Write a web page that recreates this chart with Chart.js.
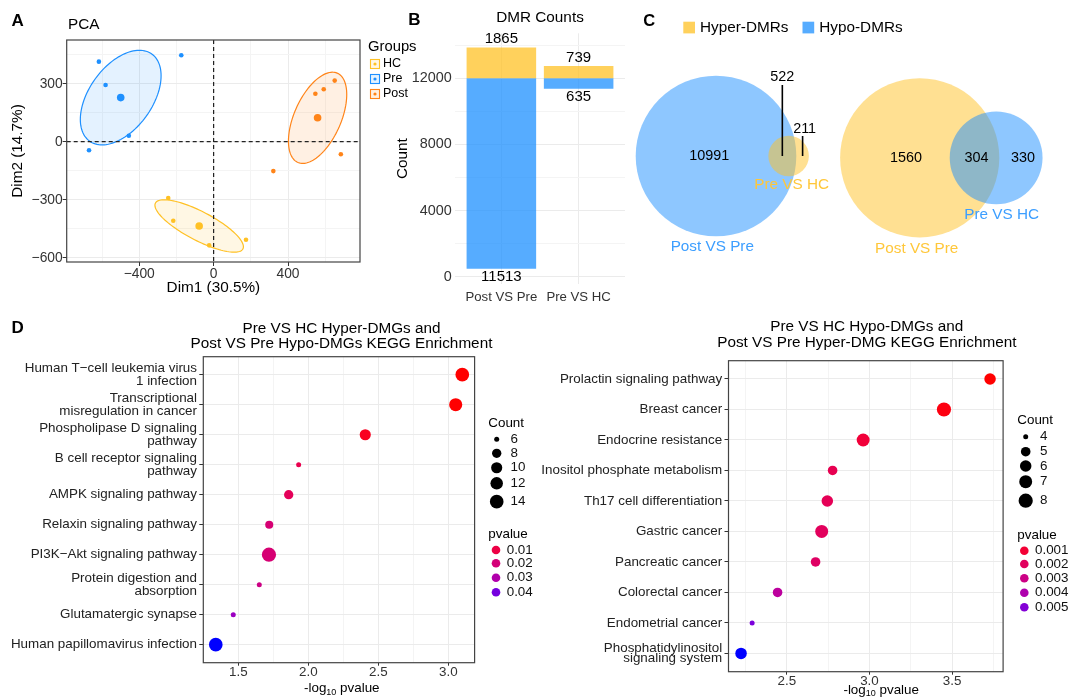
<!DOCTYPE html>
<html>
<head>
<meta charset="utf-8">
<script src="https://cdn.jsdelivr.net/npm/chart.js@4.4.1/dist/chart.umd.min.js"></script>
<style>
  body { margin: 0; background: #fff; width: 1083px; height: 697px; overflow: hidden; position: relative; }
  canvas { position: absolute; }
</style>
</head>
<body>
<canvas id="pca" style="left:0px;top:0px" width="430" height="305"></canvas>
<canvas id="dmr" style="left:360px;top:0px" width="270" height="305"></canvas>
<canvas id="vennL" style="left:630px;top:0px" width="453" height="290"></canvas>
<canvas id="vennR" style="left:630px;top:0px" width="453" height="290"></canvas>
<canvas id="keggL" style="left:0px;top:310px" width="540" height="387"></canvas>
<canvas id="keggR" style="left:540px;top:310px" width="543" height="387"></canvas>
<script>
"use strict";

// ---- A: PCA coordinates (Dim1, Dim2) ----
var groups = ['HC', 'Pre', 'Post'];
var groupColors = ['#FFC125', '#1E90FF', '#FF8419'];
var hcX = [-244, -217, -24, 174];
var hcY = [-291, -409, -536, -507];
var preX = [-617, -581, -456, -670, -174];
var preY = [414, 293, 31, -44, 447];
var postX = [651, 592, 547, 684, 321];
var postY = [316, 271, 248, -65, -152];

// ---- B: DMR counts ----
var dmrCats = ['Post VS Pre', 'Pre VS HC'];
var hyperCounts = [1865, 739];
var hypoCounts = [11513, 635];
var dmrBase = 12000;

// ---- C: venn counts [only first, overlap, only second] ----
var venn1Counts = [10991, 522, 211];   // Post VS Pre hypo / Pre VS HC hyper
var venn2Counts = [1560, 304, 330];    // Post VS Pre hyper / Pre VS HC hypo

// ---- D: KEGG enrichment ----
var keggLTerms = ['Human T\u2212cell leukemia virus\n1 infection', 'Transcriptional\nmisregulation in cancer',
  'Phospholipase D signaling\npathway', 'B cell receptor signaling\npathway', 'AMPK signaling pathway',
  'Relaxin signaling pathway', 'PI3K\u2212Akt signaling pathway', 'Protein digestion and\nabsorption',
  'Glutamatergic synapse', 'Human papillomavirus infection'];
var keggLLogP = [3.10, 3.053, 2.407, 1.931, 1.86, 1.721, 1.719, 1.65, 1.464, 1.339];
var keggLCount = [14, 13, 10, 6, 8, 7, 15, 6, 6, 14];
var keggLSizeBreaks = [6, 8, 10, 12, 14];
var keggLPBreaks = ['0.01', '0.02', '0.03', '0.04'];

var keggRTerms = ['Prolactin signaling pathway', 'Breast cancer', 'Endocrine resistance',
  'Inositol phosphate metabolism', 'Th17 cell differentiation', 'Gastric cancer', 'Pancreatic cancer',
  'Colorectal cancer', 'Endometrial cancer', 'Phosphatidylinositol\nsignaling system'];
var keggRLogP = [3.73, 3.451, 2.962, 2.777, 2.745, 2.711, 2.674, 2.444, 2.29, 2.223];
var keggRCount = [6, 8, 7, 5, 6, 7, 5, 5, 4, 6];
var keggRSizeBreaks = [4, 5, 6, 7, 8];
var keggRPBreaks = ['0.001', '0.002', '0.003', '0.004', '0.005'];

var FONT = '"Liberation Sans", Arial, Helvetica, sans-serif';
Chart.defaults.font.family = FONT;
Chart.defaults.color = '#333';
Chart.defaults.animation = false;
Chart.defaults.responsive = false;
Chart.defaults.devicePixelRatio = 1;
Chart.defaults.events = [];
Chart.defaults.plugins.legend.display = false;
Chart.defaults.plugins.tooltip.enabled = false;

function hexRgb(h) { return [parseInt(h.slice(1, 3), 16), parseInt(h.slice(3, 5), 16), parseInt(h.slice(5, 7), 16)]; }
function rgba(h, a) { var c = hexRgb(h); return 'rgba(' + c[0] + ',' + c[1] + ',' + c[2] + ',' + a + ')'; }
function mean(a) { return a.reduce(function(s, v) { return s + v; }, 0) / a.length; }
function minus(v) { return String(v).replace('-', '\u2212'); }
function isMult(v, st) { return Math.abs(v / st - Math.round(v / st)) < 1e-6; }
function stepTicks(a, b, st) {
  var out = [];
  for (var v = a; v <= b + st / 1000; v += st) out.push({ value: Math.round(v * 1000) / 1000 });
  return out;
}
function gridCol(st) { return function(c) { return c.tick && isMult(c.tick.value, st) ? '#EBEBEB' : '#F4F4F4'; }; }
function tickCol(st) { return function(c) { return c.tick && isMult(c.tick.value, st) ? '#333' : 'rgba(0,0,0,0)'; }; }

function txt(ctx, s, x, y, o) {
  o = o || {};
  ctx.save();
  ctx.font = (o.weight || 'normal') + ' ' + (o.size || 13.4) + 'px ' + FONT;
  ctx.fillStyle = o.color || '#000';
  ctx.textAlign = o.align || 'left';
  ctx.textBaseline = 'middle';
  if (o.rot) { ctx.translate(x, y); ctx.rotate(o.rot); ctx.fillText(s, 0, 0); }
  else ctx.fillText(s, x, y);
  ctx.restore();
}
function seg(ctx, x1, y1, x2, y2, w, col) {
  ctx.save(); ctx.strokeStyle = col || '#000'; ctx.lineWidth = w || 1.5;
  ctx.beginPath(); ctx.moveTo(x1, y1); ctx.lineTo(x2, y2); ctx.stroke(); ctx.restore();
}
function frame(chart) {
  var a = chart.chartArea, ctx = chart.ctx;
  ctx.save(); ctx.strokeStyle = '#444'; ctx.lineWidth = 1.2;
  ctx.strokeRect(a.left, a.top, a.right - a.left, a.bottom - a.top); ctx.restore();
}

// ================= A: PCA =================
var pcaGroups = [
  { name: groups[0], xs: hcX, ys: hcY, color: groupColors[0] },
  { name: groups[1], xs: preX, ys: preY, color: groupColors[1] },
  { name: groups[2], xs: postX, ys: postY, color: groupColors[2] }
];
var pcaSets = [];
pcaGroups.forEach(function(g) {
  pcaSets.push({ data: [{ x: mean(g.xs), y: mean(g.ys) }], pointRadius: 3.8, backgroundColor: g.color, borderWidth: 0 });
  pcaSets.push({ data: g.xs.map(function(x, i) { return { x: x, y: g.ys[i] }; }), pointRadius: 2.3, backgroundColor: g.color, borderWidth: 0 });
});

// confidence ellipse of each group from its covariance
function ellipsePath(g) {
  var n = g.xs.length, mx = mean(g.xs), my = mean(g.ys), sxx = 0, syy = 0, sxy = 0;
  for (var i = 0; i < n; i++) {
    var dx = g.xs[i] - mx, dy = g.ys[i] - my;
    sxx += dx * dx; syy += dy * dy; sxy += dx * dy;
  }
  sxx /= n - 1; syy /= n - 1; sxy /= n - 1;
  var k = Math.sqrt(5.991 / n);
  var a = Math.sqrt(sxx), b = sxy / a, c = Math.sqrt(Math.max(syy - b * b, 0));
  var pts = [];
  for (var t = 0; t <= 120; t++) {
    var th = t / 120 * 2 * Math.PI;
    pts.push([mx + k * a * Math.cos(th), my + k * (b * Math.cos(th) + c * Math.sin(th))]);
  }
  return pts;
}

var pcaDecor = {
  id: 'pcaDecor',
  beforeDatasetsDraw: function(chart) {
    var ctx = chart.ctx, sx = chart.scales.x, sy = chart.scales.y, a = chart.chartArea;
    ctx.save();
    ctx.beginPath(); ctx.rect(a.left, a.top, a.right - a.left, a.bottom - a.top); ctx.clip();
    pcaGroups.forEach(function(g) {
      var pts = ellipsePath(g);
      ctx.beginPath();
      pts.forEach(function(p, i) {
        var X = sx.getPixelForValue(p[0]), Y = sy.getPixelForValue(p[1]);
        if (i) ctx.lineTo(X, Y); else ctx.moveTo(X, Y);
      });
      ctx.closePath();
      ctx.fillStyle = rgba(g.color, 0.12); ctx.fill();
      ctx.strokeStyle = g.color; ctx.lineWidth = 1.2; ctx.stroke();
    });
    ctx.setLineDash([4, 3]); ctx.strokeStyle = '#222'; ctx.lineWidth = 1.2;
    var x0 = sx.getPixelForValue(0), y0 = sy.getPixelForValue(0);
    ctx.beginPath(); ctx.moveTo(x0, a.top); ctx.lineTo(x0, a.bottom); ctx.stroke();
    ctx.beginPath(); ctx.moveTo(a.left, y0); ctx.lineTo(a.right, y0); ctx.stroke();
    ctx.restore();
  },
  afterDraw: function(chart) {
    var ctx = chart.ctx;
    frame(chart);
    txt(ctx, 'A', 11.5, 21.5, { size: 17, weight: 'bold' });
    txt(ctx, 'PCA', 68, 25, { size: 15.3 });
    txt(ctx, 'Groups', 368, 47, { size: 14.8 });
    pcaGroups.forEach(function(g, i) {
      var y = 64 + i * 15;
      ctx.save();
      ctx.fillStyle = rgba(g.color, 0.12); ctx.fillRect(370.5, y - 4.5, 9, 9);
      ctx.strokeStyle = g.color; ctx.lineWidth = 1.1; ctx.strokeRect(370.5, y - 4.5, 9, 9);
      ctx.fillStyle = g.color; ctx.beginPath(); ctx.arc(375, y, 1.6, 0, 2 * Math.PI); ctx.fill();
      ctx.restore();
      txt(ctx, g.name, 383, y, { size: 12.5 });
    });
  }
};

new Chart(document.getElementById('pca'), {
  type: 'scatter',
  data: { datasets: pcaSets },
  options: {
    layout: { padding: { left: 0, top: 40, right: 70, bottom: 0 } },
    scales: {
      x: {
        min: -790, max: 787,
        afterBuildTicks: function(s) { s.ticks = stepTicks(-600, 600, 200); },
        afterFit: function(s) { s.height = 43; },
        ticks: { autoSkip: false, maxRotation: 0, padding: 0, color: '#333', font: { size: 13.8 },
          callback: function(v) { return isMult(v, 400) ? minus(v) : ''; } },
        grid: { color: gridCol(400), tickLength: 4, tickColor: tickCol(400) },
        border: { display: false },
        title: { display: true, text: 'Dim1 (30.5%)', color: '#000', font: { size: 15.3 }, padding: { top: 0, bottom: 8 } }
      },
      y: {
        min: -622, max: 526,
        afterBuildTicks: function(s) { s.ticks = stepTicks(-600, 450, 150); },
        afterFit: function(s) { s.width = 66.7; },
        ticks: { autoSkip: false, padding: 0, color: '#333', font: { size: 13.8 },
          callback: function(v) { return isMult(v, 300) ? minus(v) : ''; } },
        grid: { color: gridCol(300), tickLength: 4, tickColor: tickCol(300) },
        border: { display: false },
        title: { display: true, text: 'Dim2 (14.7%)', color: '#000', font: { size: 15.3 }, padding: { top: 9, bottom: 0 } }
      }
    }
  },
  plugins: [pcaDecor]
});

// ================= B: DMR counts =================
var yellowBar = rgba(groupColors[0], 0.75), blueBar = rgba(groupColors[1], 0.75);
var dmrDecor = {
  id: 'dmrDecor',
  afterDatasetsDraw: function(chart) {
    var ctx = chart.ctx;
    chart.getDatasetMeta(0).data.forEach(function(el, i) {
      txt(ctx, String(hyperCounts[i]), el.x, Math.min(el.y, el.base) - 8.5, { size: 15, align: 'center' });
    });
    chart.getDatasetMeta(1).data.forEach(function(el, i) {
      txt(ctx, String(hypoCounts[i]), el.x, Math.max(el.y, el.base) + 8.5, { size: 15, align: 'center' });
    });
    var a = chart.chartArea;
    txt(ctx, 'B', 48.3, 20, { size: 17, weight: 'bold' });
    txt(ctx, 'DMR Counts', (a.left + a.right) / 2, 18, { size: 15.3, align: 'center' });
  }
};
new Chart(document.getElementById('dmr'), {
  type: 'bar',
  data: {
    datasets: [
      { data: dmrCats.map(function(c, i) { return { x: i + 1, y: [dmrBase, dmrBase + hyperCounts[i]] }; }),
        backgroundColor: yellowBar, grouped: false, barPercentage: 0.9, categoryPercentage: 1 },
      { data: dmrCats.map(function(c, i) { return { x: i + 1, y: [dmrBase - hypoCounts[i], dmrBase] }; }),
        backgroundColor: blueBar, grouped: false, barPercentage: 0.9, categoryPercentage: 1 }
    ]
  },
  options: {
    layout: { padding: { left: 0, top: 33.3, right: 5, bottom: 0 } },
    scales: {
      x: {
        type: 'linear', min: 0.4, max: 2.6, offset: false,
        afterBuildTicks: function(s) { s.ticks = dmrCats.map(function(c, i) { return { value: i + 1 }; }); },
        afterFit: function(s) { s.height = 21; },
        ticks: { autoSkip: false, maxRotation: 0, padding: 7, color: '#333', font: { size: 13.2, lineHeight: 1 },
          callback: function(v) { return dmrCats[Math.round(v) - 1]; } },
        grid: { color: '#EBEBEB', drawTicks: false, offset: false },
        border: { display: false }
      },
      y: {
        min: -442, max: 14724,
        afterBuildTicks: function(s) { s.ticks = stepTicks(0, 14000, 2000); },
        afterFit: function(s) { s.width = 95; },
        ticks: { autoSkip: false, padding: 3.3, color: '#333', font: { size: 14.4 },
          callback: function(v) { return isMult(v, 4000) ? String(v) : ''; } },
        grid: { color: gridCol(4000), drawTicks: false },
        border: { display: false },
        title: { display: true, text: 'Count', color: '#000', font: { size: 15.3 }, padding: { top: 33.5, bottom: 0 } }
      }
    }
  },
  plugins: [dmrDecor]
});

// ================= C: Venn diagrams =================
function lensArea(r1, r2, d) {
  if (d >= r1 + r2) return 0;
  if (d <= Math.abs(r1 - r2)) return Math.PI * Math.pow(Math.min(r1, r2), 2);
  var a = r1 * r1 * Math.acos((d * d + r1 * r1 - r2 * r2) / (2 * d * r1));
  var b = r2 * r2 * Math.acos((d * d + r2 * r2 - r1 * r1) / (2 * d * r2));
  var c = 0.5 * Math.sqrt((-d + r1 + r2) * (d + r1 - r2) * (d - r1 + r2) * (d + r1 + r2));
  return a + b - c;
}
function vennGeom(counts) {
  var r1 = Math.sqrt((counts[0] + counts[1]) / Math.PI), r2 = Math.sqrt((counts[1] + counts[2]) / Math.PI);
  var lo = Math.abs(r1 - r2), hi = r1 + r2;
  for (var i = 0; i < 80; i++) {
    var m = (lo + hi) / 2;
    if (lensArea(r1, r2, m) > counts[1]) lo = m; else hi = m;
  }
  return { r1: r1, r2: r2, d: (lo + hi) / 2 };
}
var blueText = '#3C9EFF', yellowText = '#FFC73A';

function vennChart(id, counts, bigColor, smallColor, cx, cy, R, decor) {
  var g = vennGeom(counts), s = R / g.r1, W = 453, H = 290;
  return new Chart(document.getElementById(id), {
    type: 'scatter',
    data: { datasets: [{
      data: [{ x: 0, y: 0, r: g.r1 }, { x: g.d, y: 0, r: g.r2 }],
      backgroundColor: [rgba(bigColor, 0.5), rgba(smallColor, 0.5)],
      borderWidth: 0,
      clip: false,
      pointRadius: function(c) {
        var sx = c.chart.scales.x;
        return c.raw ? Math.abs(sx.getPixelForValue(c.raw.r) - sx.getPixelForValue(0)) : 0;
      }
    }] },
    options: {
      layout: { padding: 0 },
      scales: {
        x: { display: false, min: -cx / s, max: (W - cx) / s },
        y: { display: false, min: -(H - cy) / s, max: cy / s }
      }
    },
    plugins: [{ id: 'vennDecor_' + id, afterDatasetsDraw: function(chart) { decor(chart, g); } }]
  });
}

vennChart('vennL', venn1Counts, groupColors[1], groupColors[0], 86, 156, 80.3, function(chart, g) {
  var ctx = chart.ctx, sx = chart.scales.x, y0 = chart.scales.y.getPixelForValue(0);
  var xBoth = sx.getPixelForValue((g.r1 + g.d - g.r2) / 2);
  var xSmall = sx.getPixelForValue((g.r1 + g.d + g.r2) / 2);
  txt(ctx, String(venn1Counts[0]), 79.3, y0, { size: 14.4, align: 'center' });
  seg(ctx, xBoth, 85, xBoth, y0, 1.6);
  txt(ctx, String(venn1Counts[1]), xBoth, 77.3, { size: 14.4, align: 'center' });
  seg(ctx, xSmall, 136, xSmall, y0, 1.6);
  txt(ctx, String(venn1Counts[2]), xSmall + 2, 129, { size: 14.4, align: 'center' });
  txt(ctx, 'Pre VS HC', 161.7, 185, { size: 15.3, align: 'center', color: yellowText });
  txt(ctx, 'Post VS Pre', 82.3, 246.7, { size: 15.3, align: 'center', color: blueText });
  // panel letter + legend
  txt(ctx, 'C', 13.3, 21.7, { size: 16.5, weight: 'bold' });
  ctx.fillStyle = rgba(groupColors[0], 0.75); ctx.fillRect(53.3, 21.7, 11.7, 11.7);
  txt(ctx, 'Hyper-DMRs', 70, 27.5, { size: 15.3 });
  ctx.fillStyle = rgba(groupColors[1], 0.75); ctx.fillRect(172.5, 21.7, 11.7, 11.7);
  txt(ctx, 'Hypo-DMRs', 189.3, 27.5, { size: 15.3 });
});

vennChart('vennR', venn2Counts, groupColors[0], groupColors[1], 289.7, 157.8, 79.6, function(chart, g) {
  var ctx = chart.ctx, sx = chart.scales.x, y0 = chart.scales.y.getPixelForValue(0);
  var xBoth = sx.getPixelForValue((g.r1 + g.d - g.r2) / 2);
  var xSmall = sx.getPixelForValue((g.r1 + g.d + g.r2) / 2);
  txt(ctx, String(venn2Counts[0]), 276, y0, { size: 14.4, align: 'center' });
  txt(ctx, String(venn2Counts[1]), xBoth + 2, y0, { size: 14.4, align: 'center' });
  txt(ctx, String(venn2Counts[2]), xSmall + 2, y0, { size: 14.4, align: 'center' });
  txt(ctx, 'Pre VS HC', 371.7, 215, { size: 15.3, align: 'center', color: blueText });
  txt(ctx, 'Post VS Pre', 286.7, 248.3, { size: 15.3, align: 'center', color: yellowText });
});

// ================= D: KEGG dot plots =================
function toLab(rgb) {
  var l = rgb.map(function(c) { c /= 255; return c <= 0.04045 ? c / 12.92 : Math.pow((c + 0.055) / 1.055, 2.4); });
  var X = (0.4124564 * l[0] + 0.3575761 * l[1] + 0.1804375 * l[2]) / 0.95047;
  var Y = 0.2126729 * l[0] + 0.7151522 * l[1] + 0.0721750 * l[2];
  var Z = (0.0193339 * l[0] + 0.1191920 * l[1] + 0.9503041 * l[2]) / 1.08883;
  var f = function(t) { return t > 0.008856 ? Math.cbrt(t) : 7.787 * t + 16 / 116; };
  return [116 * f(Y) - 16, 500 * (f(X) - f(Y)), 200 * (f(Y) - f(Z))];
}
function fromLab(lab) {
  var fy = (lab[0] + 16) / 116, fx = fy + lab[1] / 500, fz = fy - lab[2] / 200;
  var fi = function(t) { var t3 = t * t * t; return t3 > 0.008856 ? t3 : (t - 16 / 116) / 7.787; };
  var X = fi(fx) * 0.95047, Y = fi(fy), Z = fi(fz) * 1.08883;
  var r = 3.2404542 * X - 1.5371385 * Y - 0.4985314 * Z;
  var g = -0.9692660 * X + 1.8760108 * Y + 0.0415560 * Z;
  var b = 0.0556434 * X - 0.2040259 * Y + 1.0572252 * Z;
  return [r, g, b].map(function(c) {
    c = c <= 0.0031308 ? 12.92 * c : 1.055 * Math.pow(c, 1 / 2.4) - 0.055;
    return Math.round(Math.max(0, Math.min(1, c)) * 255);
  });
}
function labRamp(lo, hi) {
  var a = toLab(hexRgb(lo)), b = toLab(hexRgb(hi));
  return function(t) {
    t = Math.max(0, Math.min(1, t));
    return 'rgb(' + fromLab([0, 1, 2].map(function(i) { return a[i] + (b[i] - a[i]) * t; })).join(',') + ')';
  };
}
var redBlue = labRamp('#FF0000', '#0000FF');

function keggChart(id, terms, logp, counts, sizeBreaks, pBreaks, L) {
  var pv = logp.map(function(v) { return Math.pow(10, -v); });
  var pLo = Math.min.apply(null, pv), pHi = Math.max.apply(null, pv);
  var cLo = Math.min.apply(null, counts), cHi = Math.max.apply(null, counts);
  var colorOf = function(p) { return redBlue((p - pLo) / (pHi - pLo)); };
  var radiusOf = function(c) { return 2.5 + 4.6 * Math.sqrt(Math.max(0, (c - cLo) / (cHi - cLo))); };

  var decor = {
    id: 'keggDecor_' + id,
    afterDraw: function(chart) {
      var ctx = chart.ctx;
      frame(chart);
      if (L.letter) txt(ctx, 'D', 11.4, 18.3, { size: 17, weight: 'bold' });
      L.titles.forEach(function(t, i) { txt(ctx, t, L.titleX, L.titleY[i], { size: 15.3, align: 'center' }); });
      // x axis title with subscript
      ctx.save();
      ctx.font = '13.4px ' + FONT; var w1 = ctx.measureText('-log').width, w3 = ctx.measureText(' pvalue').width;
      ctx.font = '9px ' + FONT; var w2 = ctx.measureText('10').width;
      ctx.restore();
      var x = L.axisTitle[0] - (w1 + w2 + w3) / 2, y = L.axisTitle[1];
      txt(ctx, '-log', x, y, { size: 13.4 });
      txt(ctx, '10', x + w1, y + 4, { size: 9 });
      txt(ctx, ' pvalue', x + w1 + w2, y, { size: 13.4 });
      // legends
      var lg = L.legend;
      txt(ctx, 'Count', lg.x, lg.countTitle, { size: 13.4 });
      sizeBreaks.forEach(function(c, i) {
        ctx.fillStyle = '#000'; ctx.beginPath(); ctx.arc(lg.countDotX, lg.countY[i], radiusOf(c), 0, 2 * Math.PI); ctx.fill();
        txt(ctx, String(c), lg.countLabelX, lg.countY[i], { size: 13.4, color: '#111' });
      });
      txt(ctx, 'pvalue', lg.x, lg.pTitle, { size: 13.4 });
      pBreaks.forEach(function(p, i) {
        ctx.fillStyle = colorOf(parseFloat(p)); ctx.beginPath(); ctx.arc(lg.pDotX, lg.pY[i], 4.3, 0, 2 * Math.PI); ctx.fill();
        txt(ctx, p, lg.pLabelX, lg.pY[i], { size: 13.4, color: '#111' });
      });
    }
  };

  return new Chart(document.getElementById(id), {
    type: 'scatter',
    data: { datasets: [{
      data: logp.map(function(v, i) { return { x: v, y: i + 1 }; }),
      pointRadius: function(c) { return radiusOf(counts[c.dataIndex]); },
      backgroundColor: function(c) { return colorOf(pv[c.dataIndex]); },
      borderWidth: 0,
      clip: false
    }] },
    options: {
      layout: { padding: { left: 0, top: L.top, right: L.right, bottom: 0 } },
      scales: {
        x: {
          min: L.xMin, max: L.xMax,
          afterBuildTicks: function(s) { s.ticks = stepTicks(L.xFirst, L.xLast, 0.25); },
          afterFit: function(s) { s.height = L.xHeight; },
          ticks: { autoSkip: false, maxRotation: 0, padding: 0, color: '#333', font: { size: 13.4, lineHeight: 1 },
            callback: function(v) { return isMult(v, 0.5) ? v.toFixed(1) : ''; } },
          grid: { color: gridCol(0.5), tickLength: 3, tickColor: tickCol(0.5) },
          border: { display: false }
        },
        y: {
          reverse: true, min: 0.4, max: terms.length + 0.6,
          afterBuildTicks: function(s) { s.ticks = terms.map(function(t, i) { return { value: i + 1 }; }); },
          afterFit: function(s) { s.width = L.yWidth; },
          ticks: { autoSkip: false, padding: 2.3, color: '#222', font: { size: 13.4, lineHeight: L.tickLH },
            callback: function(v) { var t = terms[Math.round(v) - 1]; return t ? t.split('\n') : ''; } },
          grid: { color: '#EBEBEB', tickLength: 4, tickColor: '#333' },
          border: { display: false }
        }
      }
    },
    plugins: [decor]
  });
}

keggChart('keggL', keggLTerms, keggLLogP, keggLCount, keggLSizeBreaks, keggLPBreaks, {
  letter: true, top: 46.7, right: 65.4, yWidth: 203.3, xHeight: 34.3,
  xMin: 1.25, xMax: 3.188, xFirst: 1.25, xLast: 3.0, tickLH: 0.93,
  titles: ['Pre VS HC Hyper-DMGs and', 'Post VS Pre Hypo-DMGs KEGG Enrichment'],
  titleX: 341.5, titleY: [18.3, 33.3], axisTitle: [341.8, 378.3],
  legend: { x: 488.3, countTitle: 113.3, countDotX: 496.7, countLabelX: 510.5,
    countY: [129.3, 143.3, 157.7, 173.3, 191.7],
    pTitle: 224, pDotX: 496, pLabelX: 506.7, pY: [240, 253.3, 267.7, 282.3] }
});

keggChart('keggR', keggRTerms, keggRLogP, keggRCount, keggRSizeBreaks, keggRPBreaks, {
  letter: false, top: 50.7, right: 79.9, yWidth: 188.5, xHeight: 25.3,
  xMin: 2.147, xMax: 3.809, xFirst: 2.25, xLast: 3.75, tickLH: 0.78,
  titles: ['Pre VS HC Hypo-DMGs and', 'Post VS Pre Hyper-DMG KEGG Enrichment'],
  titleX: 326.8, titleY: [16.7, 32.3], axisTitle: [341.2, 380],
  legend: { x: 477.3, countTitle: 110.7, countDotX: 485.7, countLabelX: 500,
    countY: [126.7, 141.7, 156, 171.7, 190.7],
    pTitle: 225, pDotX: 484.3, pLabelX: 495, pY: [240.7, 254, 268.3, 282.7, 297.3] }
});
</script>
</body>
</html>
